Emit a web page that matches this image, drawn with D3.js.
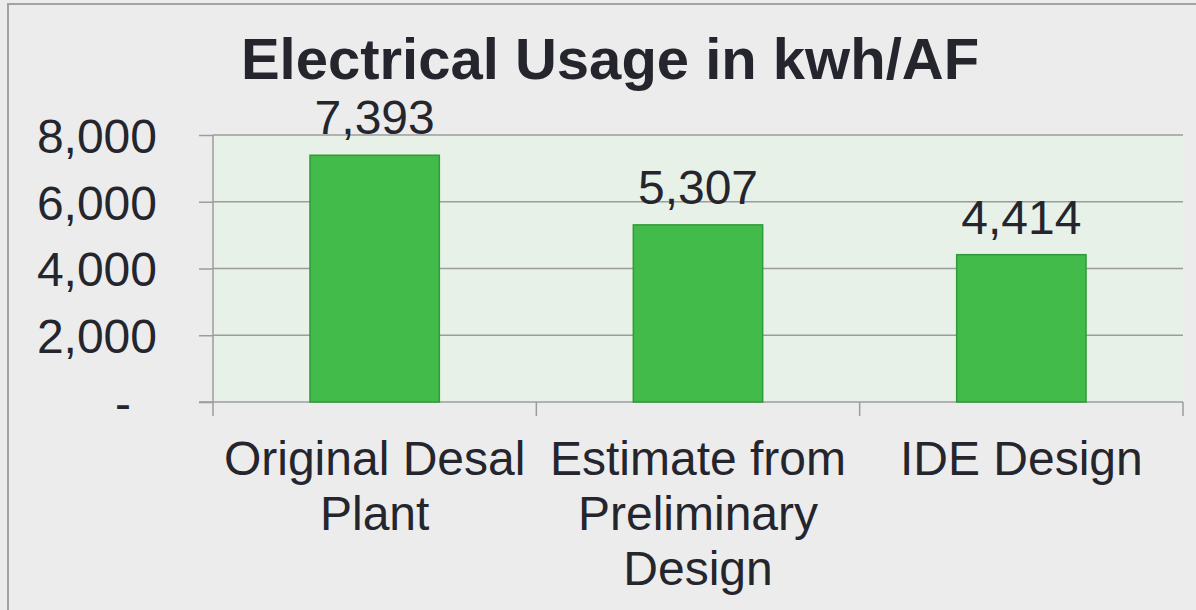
<!DOCTYPE html>
<html>
<head>
<meta charset="utf-8">
<script src="https://cdn.jsdelivr.net/npm/d3@7"></script>
<style>
  body { margin: 0; background: #ececec; }
  svg { display: block; font-family: "Liberation Sans", Arial, sans-serif; }
</style>
</head>
<body>
<div id="chart"></div>
<script>
// data
const categories = ["Original Desal Plant", "Estimate from Preliminary Design", "IDE Design"];
const usage = [7393, 5307, 4414];
const yTicks = [0, 2000, 4000, 6000, 8000];
const title = "Electrical Usage in kwh/AF";

// set the dimensions and margins of the graph
const W = 1196, H = 610;
const margin = {top: 135, right: 13, bottom: 208, left: 213},
    width = W - margin.left - margin.right,
    height = H - margin.top - margin.bottom;

const textColor = "#25252d";
const gridColor = "#9c9c9c";

const root = d3.select("#chart")
    .append("svg")
    .attr("width", W)
    .attr("height", H);

// outer frame
root.append("rect")
    .attr("x", 8).attr("y", 4)
    .attr("width", W).attr("height", H)
    .attr("fill", "#ececec")
    .attr("stroke", "#a3a3a3")
    .attr("stroke-width", 2);

// title
root.append("text")
    .attr("x", 610)
    .attr("y", 79)
    .attr("text-anchor", "middle")
    .attr("font-size", "58px")
    .attr("font-weight", "bold")
    .attr("fill", textColor)
    .text(title);

const svg = root.append("g")
    .attr("transform", `translate(${margin.left},${margin.top})`);

// scales
const x = d3.scaleBand()
    .domain(categories)
    .range([0, width])
    .padding(0);

const y = d3.scaleLinear()
    .domain([0, 8000])
    .range([height, 0]);

// plot background
svg.append("rect")
    .attr("width", width)
    .attr("height", height)
    .attr("fill", "#e7f1e8");

// gridlines
svg.append("g")
    .selectAll("line")
    .data(yTicks.slice(1))
    .join("line")
    .attr("x1", 0).attr("x2", width)
    .attr("y1", d => y(d)).attr("y2", d => y(d))
    .attr("stroke", gridColor)
    .attr("stroke-width", 1.5);

// Y axis
const yAxis = svg.append("g")
    .call(d3.axisLeft(y)
        .tickValues(yTicks)
        .tickSize(14)
        .tickPadding(42)
        .tickFormat(d => d === 0 ? "-" : d3.format(",")(d)));
yAxis.select(".domain").remove();
yAxis.selectAll(".tick line").attr("stroke", gridColor).attr("stroke-width", 1.5);
yAxis.selectAll(".tick text")
    .attr("font-size", "48px")
    .attr("font-family", "Liberation Sans, Arial, sans-serif")
    .attr("fill", textColor)
    .attr("dy", "0.36em")
    .attr("dx", d => d === 0 ? -26 : 0);

// vertical axis line
svg.append("line")
    .attr("x1", 0).attr("x2", 0)
    .attr("y1", 0).attr("y2", height + 14)
    .attr("stroke", gridColor)
    .attr("stroke-width", 1.5);

// X axis line and boundary ticks
svg.append("line")
    .attr("x1", -14).attr("x2", width)
    .attr("y1", height).attr("y2", height)
    .attr("stroke", gridColor)
    .attr("stroke-width", 1.5);

const bounds = categories.map(c => x(c)).concat([width]);
svg.append("g")
    .selectAll("line")
    .data(bounds.slice(1))
    .join("line")
    .attr("x1", d => d).attr("x2", d => d)
    .attr("y1", height).attr("y2", height + 14)
    .attr("stroke", gridColor)
    .attr("stroke-width", 1.5);

// bars
const barW = x.bandwidth() * 0.4;
svg.append("g")
    .selectAll("rect")
    .data(usage)
    .join("rect")
    .attr("x", (d, i) => x(categories[i]) + (x.bandwidth() - barW) / 2)
    .attr("y", d => y(d))
    .attr("width", barW)
    .attr("height", d => height - y(d))
    .attr("fill", "#43bb4b")
    .attr("stroke", "#2f9a39")
    .attr("stroke-width", 1.5);

// value labels
svg.append("g")
    .selectAll("text")
    .data(usage)
    .join("text")
    .attr("x", (d, i) => x(categories[i]) + x.bandwidth() / 2)
    .attr("y", d => y(d) - 21)
    .attr("text-anchor", "middle")
    .attr("font-size", "48px")
    .attr("fill", textColor)
    .text(d => d3.format(",")(d));

// category labels, wrapped to band width
const catLabels = svg.append("g")
    .selectAll("text")
    .data(categories)
    .join("text")
    .attr("x", d => x(d) + x.bandwidth() / 2)
    .attr("y", height + 73)
    .attr("text-anchor", "middle")
    .attr("font-size", "48px")
    .attr("fill", textColor);

catLabels.each(function(d) {
    const t = d3.select(this);
    const words = d.split(" ");
    const maxW = x.bandwidth() - 8;
    let line = [];
    let lineNo = 0;
    let tspan = t.append("tspan").attr("x", x(d) + x.bandwidth() / 2).attr("dy", 0);
    words.forEach(w => {
        line.push(w);
        tspan.text(line.join(" "));
        if (tspan.node().getComputedTextLength() > maxW && line.length > 1) {
            line.pop();
            tspan.text(line.join(" "));
            line = [w];
            lineNo++;
            tspan = t.append("tspan")
                .attr("x", x(d) + x.bandwidth() / 2)
                .attr("dy", 55)
                .text(w);
        }
    });
});
</script>
</body>
</html>
